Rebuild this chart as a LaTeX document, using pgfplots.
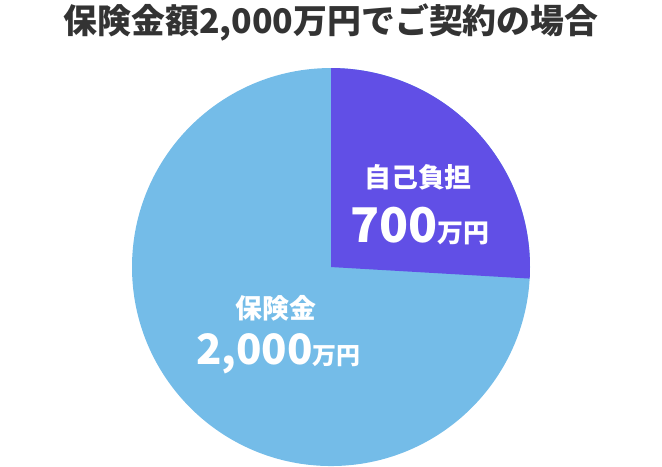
\documentclass[border=0pt]{standalone}
\usepackage{pgfplots}
\pgfplotsset{compat=1.18}
\usepackage{pgfplotstable}
\usepackage{fontspec}
\setmainfont{Noto Sans CJK JP}
\definecolor{selfpay}{HTML}{614FE6}
\definecolor{insured}{HTML}{74BCE8}
\definecolor{titlegray}{HTML}{333333}

% 金額（万円）
\pgfplotstableread{
part value
self 700
insurance 2000
}\piedata

\begin{document}
\begin{tikzpicture}
\pgfplotstablegetelem{0}{value}\of\piedata \let\vself\pgfplotsretval
\pgfplotstablegetelem{1}{value}\of\piedata \let\vins\pgfplotsretval
\pgfmathsetmacro\angend{90-360*(\vself/(\vself+\vins))}
\begin{axis}[
  scale only axis,
  width=662bp, height=464bp,
  xmin=0, xmax=662, ymin=0, ymax=464,
  axis lines=none,
  clip=false,
]
\path (axis cs:0,0) rectangle (axis cs:662,464);
\fill[insured] (axis cs:331,199) circle[radius=199bp];
\fill[selfpay] (axis cs:331,199) -- ++(90:199bp)
  arc[start angle=90, end angle=\angend, radius=199bp] -- cycle;

\node[titlegray, font=\bfseries\fontsize{34}{38}\selectfont]
  at (axis cs:331,444) {保険金額2,000万円でご契約の場合};

\node[white, font=\bfseries\fontsize{27}{30}\selectfont]
  at (axis cs:418,289) {自己負担};
\node[white, font=\bfseries\fontsize{26}{30}\selectfont, anchor=base west, inner sep=0pt]
  at (axis cs:350,224) {{\fontsize{48}{52}\selectfont 700}万円};

\node[white, font=\bfseries\fontsize{27}{30}\selectfont]
  at (axis cs:276,158) {保険金};
\node[white, font=\bfseries\fontsize{24}{28}\selectfont, anchor=base west, inner sep=0pt]
  at (axis cs:196,102) {{\fontsize{42}{46}\selectfont 2,000}万円};
\end{axis}
\end{tikzpicture}
\end{document}
